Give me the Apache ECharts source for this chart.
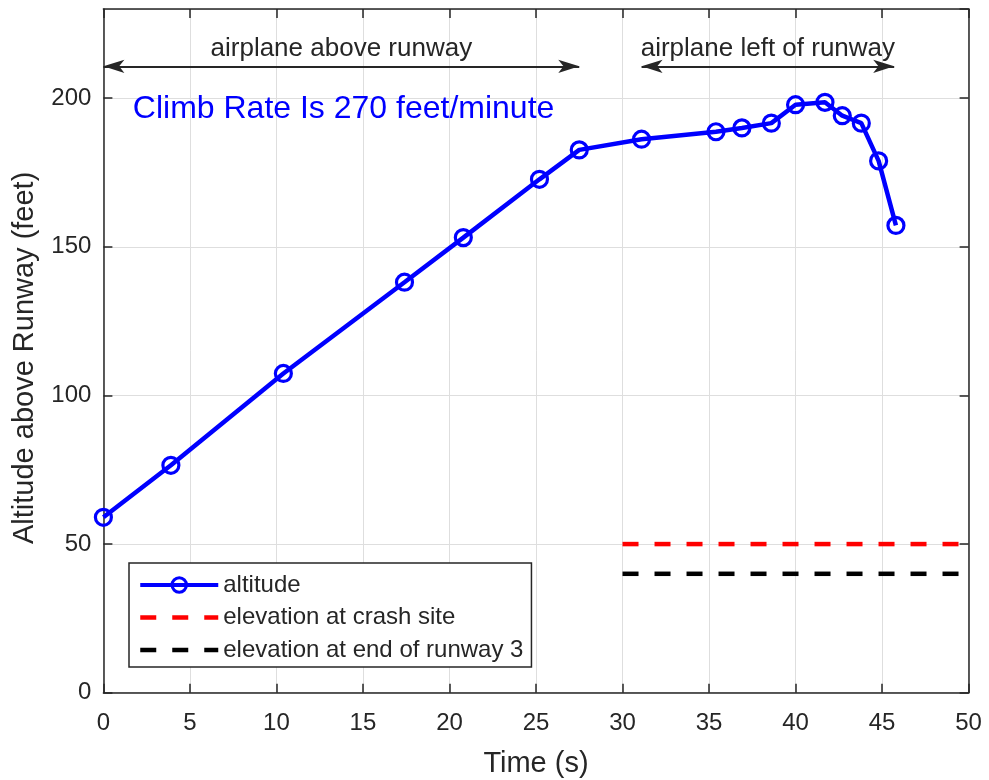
<!DOCTYPE html>
<html>
<head>
<meta charset="utf-8">
<script src="https://cdn.jsdelivr.net/npm/echarts@6/dist/echarts.min.js"></script>
<style>
html,body{margin:0;padding:0;background:#fff;}
#chart{width:989px;height:780px;}
</style>
</head>
<body>
<div id="chart"></div>
<script>
// ---- data ----
const timeS = [0, 3.9, 10.4, 17.4, 20.8, 25.2, 27.5, 31.1, 35.4, 36.9, 38.6, 40.0, 41.7, 42.7, 43.8, 44.8, 45.8];
const altitudeFt = [59, 76.5, 107.4, 138.1, 153.1, 172.7, 182.6, 186.2, 188.7, 190.0, 191.6, 197.8, 198.6, 194.1, 191.6, 178.9, 157.2];
const crashSiteX = [30, 50];
const crashSiteY = [50, 50];
const runwayEndX = [30, 50];
const runwayEndY = [40, 40];
const seriesNames = ['altitude', 'elevation at crash site', 'elevation at end of runway 3'];
const arrowLabels = ['airplane above runway', 'airplane left of runway'];
const arrowStartX = [0, 31.1];
const arrowEndX = [27.5, 45.7];
const arrowY = [210.7, 210.7];
const climbText = 'Climb Rate Is 270 feet/minute';
const climbTextPos = [1.7, 196.2];
const xTicks = {min: 0, max: 50, interval: 5};
const yTicks = {min: 0, max: 230, interval: 50};
const xTitle = 'Time (s)';
const yTitle = 'Altitude above Runway (feet)';

const FONT = "'Liberation Sans', Arial, Helvetica, sans-serif";
const INK = '#262626';
const BLUE = '#0000ff';
const zip = (a, b) => a.map((v, i) => [v, b[i]]);

const chart = echarts.init(document.getElementById('chart'), null, {renderer: 'canvas'});

const axisCommon = {
  axisLine: {show: true, onZero: false, lineStyle: {color: INK, width: 1.5}},
  axisTick: {show: true, inside: true, length: 9, lineStyle: {color: INK, width: 1.5}}
};

const hiddenSym = {color: 'rgba(0,0,0,0)', borderWidth: 0, opacity: 0};

const option = {
  animation: false,
  backgroundColor: '#ffffff',
  grid: {left: 103.4, right: 20.4, top: 9, bottom: 87.3, containLabel: false, outerBoundsMode: 'none'},
  xAxis: [
    Object.assign({
      type: 'value', min: xTicks.min, max: xTicks.max, interval: xTicks.interval, position: 'bottom',
      name: xTitle, nameLocation: 'middle', nameGap: 57,
      nameTextStyle: {fontFamily: FONT, fontSize: 29, color: INK},
      axisLabel: {fontFamily: FONT, fontSize: 24, color: INK, margin: 19},
      splitLine: {show: true, lineStyle: {color: '#dedede', width: 1}}
    }, axisCommon),
    Object.assign({
      type: 'value', min: xTicks.min, max: xTicks.max, interval: xTicks.interval, position: 'top',
      axisLabel: {show: false}, splitLine: {show: false}
    }, axisCommon)
  ],
  yAxis: [
    Object.assign({
      type: 'value', min: yTicks.min, max: yTicks.max, interval: yTicks.interval, position: 'left',
      name: yTitle, nameLocation: 'middle', nameGap: 64, nameRotate: 90,
      nameTextStyle: {fontFamily: FONT, fontSize: 29, color: INK, padding: [0, 14, 0, 0]},
      axisLabel: {fontFamily: FONT, fontSize: 24, color: INK, margin: 12, showMaxLabel: false},
      splitLine: {show: true, lineStyle: {color: '#dedede', width: 1}}
    }, axisCommon),
    Object.assign({
      type: 'value', min: yTicks.min, max: yTicks.max, interval: yTicks.interval, position: 'right',
      axisLabel: {show: false}, splitLine: {show: false}
    }, axisCommon)
  ],
  legend: {
    data: [
      {name: seriesNames[0], itemStyle: {color: 'rgba(0,0,0,0)', borderColor: BLUE, borderWidth: 3}, lineStyle: {color: BLUE, width: 4}},
      {name: seriesNames[1], itemStyle: hiddenSym, lineStyle: {color: '#ff0000', width: 4.5, type: [16, 16]}},
      {name: seriesNames[2], itemStyle: hiddenSym, lineStyle: {color: '#000000', width: 4.5, type: [16, 16]}}
    ],
    orient: 'vertical',
    left: 129, top: 563,
    padding: [10, 8, 5, 9],
    itemWidth: 78, itemHeight: 18, itemGap: 8.5,
    backgroundColor: '#ffffff',
    borderColor: INK, borderWidth: 1.5, borderRadius: 0,
    textStyle: {fontFamily: FONT, fontSize: 24, color: INK},
    selectedMode: false
  },
  series: [
    {
      name: seriesNames[0], type: 'line', data: zip(timeS, altitudeFt),
      symbol: 'circle', symbolSize: 16,
      lineStyle: {color: BLUE, width: 4.5},
      itemStyle: {color: 'rgba(0,0,0,0)', borderColor: BLUE, borderWidth: 3.2},
      z: 5
    },
    {
      name: seriesNames[1], type: 'line', data: zip(crashSiteX, crashSiteY),
      symbol: 'none', lineStyle: {color: '#ff0000', width: 4.5, type: [16, 16]},
      itemStyle: {color: '#ff0000'}
    },
    {
      name: seriesNames[2], type: 'line', data: zip(runwayEndX, runwayEndY),
      symbol: 'none', lineStyle: {color: '#000000', width: 4.5, type: [16, 16]},
      itemStyle: {color: '#000000'}
    },
    {
      name: 'annotations', type: 'line', data: [], silent: true,
      markLine: {
        silent: true,
        symbol: ['arrow', 'arrow'],
        symbolSize: [10, 21],
        lineStyle: {color: INK, width: 2, type: 'solid'},
        emphasis: {disabled: true},
        label: {show: true, position: 'insideMiddleTop', distance: 5, fontFamily: FONT, fontSize: 26, color: INK},
        data: arrowLabels.map((t, i) => [
          {coord: [arrowStartX[i], arrowY[i]], name: t, label: {formatter: t}},
          {coord: [arrowEndX[i], arrowY[i]]}
        ])
      }
    }
  ]
};

chart.setOption(option);

const p = chart.convertToPixel({xAxisIndex: 0, yAxisIndex: 0}, climbTextPos);
chart.setOption({
  graphic: [{
    type: 'text', x: p[0], y: p[1], silent: true,
    style: {text: climbText, font: '32px ' + FONT, fill: BLUE, textVerticalAlign: 'middle', textAlign: 'left'}
  }]
});
</script>
</body>
</html>
